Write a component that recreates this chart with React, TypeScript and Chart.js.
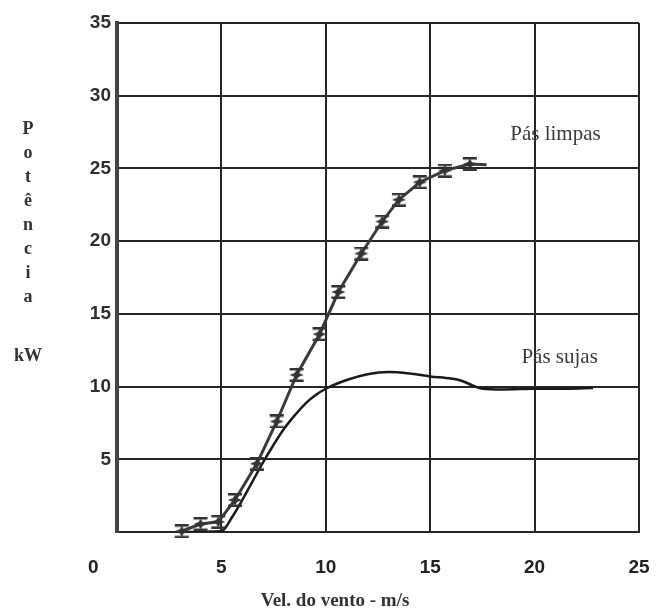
import React, { useEffect, useRef } from "react";
import { Chart, registerables } from "chart.js";

Chart.register(...registerables);

// ---- Data ----
const cleanX = [3.1, 4.0, 4.85, 5.65, 6.7, 7.65, 8.6, 9.7, 10.6, 11.7, 12.7, 13.5, 14.5, 15.7, 16.9];
const cleanY = [0.05, 0.55, 0.7, 2.2, 4.7, 7.6, 10.8, 13.6, 16.5, 19.15, 21.35, 22.85, 24.05, 24.85, 25.3];
const cleanTailX = [17.7];
const cleanTailY = [25.25];

const dirtyX = [3.1, 5.0, 5.5, 6.0, 6.5, 7.0, 7.5, 8.0, 8.5, 9.0, 9.5, 10.0, 11.0, 12.0, 13.0, 14.0, 15.0, 16.0, 16.5, 17.0, 17.5, 18.5, 20.0, 21.5, 22.8];
const dirtyY = [0, 0.05, 1.0, 2.2, 3.5, 4.8, 6.0, 7.1, 8.0, 8.8, 9.4, 9.85, 10.45, 10.85, 11.0, 10.9, 10.7, 10.55, 10.4, 10.1, 9.85, 9.8, 9.85, 9.85, 9.9];

const xTickValues = [0, 5, 10, 15, 20, 25];
const yTickValues = [0, 5, 10, 15, 20, 25, 30, 35];

const yTitleLetters = ["P", "o", "t", "ê", "n", "c", "i", "a"];
const yTitleUnit = "kW";
const xTitle = "Vel. do vento - m/s";
const cleanLabel = "Pás limpas";
const dirtyLabel = "Pás sujas";
const cleanLabelAt = [21.0, 27.3];
const dirtyLabelAt = [21.2, 12.0];

function makeMarker(): HTMLCanvasElement {
  const c = document.createElement("canvas");
  c.width = 16;
  c.height = 14;
  const g = c.getContext("2d")!;
  g.fillStyle = "#333";
  g.fillRect(1, 0, 14, 2.5);
  g.fillRect(1, 11.5, 14, 2.5);
  g.beginPath();
  g.moveTo(8, 1.5);
  g.lineTo(10, 5);
  g.lineTo(15, 7);
  g.lineTo(10, 9);
  g.lineTo(8, 12.5);
  g.lineTo(6, 9);
  g.lineTo(1, 7);
  g.lineTo(6, 5);
  g.closePath();
  g.fill();
  return c;
}

const annotPlugin = {
  id: "annot",
  afterDatasetsDraw(chart: any) {
    const { ctx, scales } = chart;
    const x = scales.x;
    const y = scales.y;
    ctx.save();
    ctx.font = '21px "Liberation Serif"';
    ctx.fillStyle = "#3a3a3a";
    ctx.textAlign = "center";
    ctx.textBaseline = "middle";
    ctx.fillText(cleanLabel, x.getPixelForValue(cleanLabelAt[0]), y.getPixelForValue(cleanLabelAt[1]));
    ctx.fillText(dirtyLabel, x.getPixelForValue(dirtyLabelAt[0]), y.getPixelForValue(dirtyLabelAt[1]));
    ctx.restore();
  },
};

export default function App() {
  const ref = useRef<HTMLCanvasElement>(null);

  useEffect(() => {
    if (!ref.current) return;
    const marker = makeMarker();
    const cleanPts = cleanX.map((v, i) => ({ x: v, y: cleanY[i] }))
      .concat(cleanTailX.map((v, i) => ({ x: v, y: cleanTailY[i] })));
    const dirtyPts = dirtyX.map((v, i) => ({ x: v, y: dirtyY[i] }));
    const nMarkers = cleanX.length;

    const chart = new Chart(ref.current, {
      type: "line",
      data: {
        datasets: [
          {
            label: cleanLabel,
            data: cleanPts,
            borderColor: "#3a3a3a",
            borderWidth: 3,
            tension: 0,
            pointStyle: (c: any) => (c.dataIndex < nMarkers ? marker : "circle"),
            pointRadius: (c: any) => (c.dataIndex < nMarkers ? 7 : 0),
            pointHoverRadius: 0,
            clip: false as any,
          },
          {
            label: dirtyLabel,
            data: dirtyPts,
            borderColor: "#1a1a1a",
            borderWidth: 2.5,
            pointRadius: 0,
            cubicInterpolationMode: "monotone",
          },
        ],
      },
      options: {
        animation: false,
        responsive: false,
        events: [],
        layout: { padding: { top: 23, right: 17, left: 0, bottom: 0 } },
        plugins: {
          legend: { display: false },
          tooltip: { enabled: false },
        },
        scales: {
          x: {
            type: "linear",
            min: 0,
            max: 25,
            afterBuildTicks: (s: any) => {
              s.ticks = xTickValues.map((v) => ({ value: v }));
            },
            afterFit: (s: any) => {
              s.height = 82;
              s.paddingRight = 0;
              s.paddingLeft = 0;
            },
            ticks: {
              color: "#222",
              font: { family: '"Liberation Sans"', size: 19, weight: "bold" },
              padding: 24,
              callback: (v: any) => (v === 0 ? "0" + "\u00a0".repeat(9) : String(v)),
            },
            grid: { color: "#262626", lineWidth: 2, drawTicks: false },
            border: { display: true, color: "#262626", width: 2 },
          },
          y: {
            type: "linear",
            min: 0,
            max: 35,
            afterBuildTicks: (s: any) => {
              s.ticks = yTickValues.map((v) => ({ value: v }));
            },
            afterFit: (s: any) => {
              s.width = 117;
              s.paddingTop = 0;
              s.paddingBottom = 0;
            },
            ticks: {
              color: "#2e2e2e",
              font: { family: '"Liberation Sans"', size: 19, weight: "bold" },
              padding: 6,
              callback: (v: any) => (v === 0 ? "" : String(v)),
            },
            grid: { color: "#262626", lineWidth: 2, drawTicks: false },
            border: { display: true, color: "#444", width: 4 },
          },
        },
      },
      plugins: [annotPlugin],
    } as any);
    return () => chart.destroy();
  }, []);

  return (
    <div style={{ position: "fixed", left: 0, top: 0, width: 656, height: 614, background: "#fff" }}>
      <canvas ref={ref} width={656} height={614} style={{ display: "block" }} />
      <div
        style={{
          position: "absolute",
          left: 8,
          top: 116,
          width: 40,
          textAlign: "center",
          font: 'bold 18px "Liberation Serif"',
          color: "#333",
          lineHeight: "24px",
        }}
      >
        {yTitleLetters.map((ch, i) => (
          <div key={i}>{ch}</div>
        ))}
        <div style={{ marginTop: 35 }}>{yTitleUnit}</div>
      </div>
      <div
        style={{
          position: "absolute",
          left: 215,
          top: 589,
          width: 240,
          textAlign: "center",
          font: 'bold 19px "Liberation Serif"',
          color: "#333",
          lineHeight: "22px",
        }}
      >
        {xTitle}
      </div>
    </div>
  );
}
